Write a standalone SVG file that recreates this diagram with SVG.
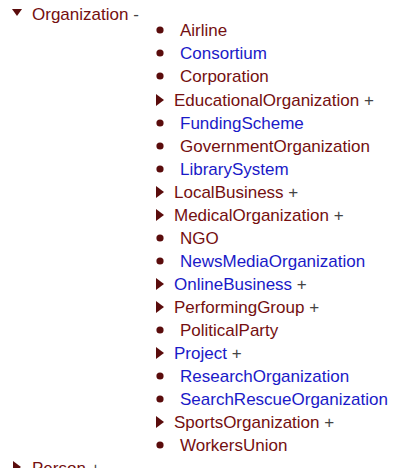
<svg xmlns="http://www.w3.org/2000/svg" width="400" height="468" viewBox="0 0 400 468">
<style>
text{font-family:"Liberation Sans",Arial,sans-serif;font-size:17px}
.r{fill:#740f10}
.b{fill:#1a1ac8}
.p{fill:#444}
.m{fill:#5a0c0c}
</style>
<defs>
<circle id="dot" r="3.6" class="m"/>
<path id="tri" d="M0,-6 L8,0 L0,6 Z" class="m"/>
</defs>
<rect width="400" height="468" fill="#fff"/>
<g id="Organization"><path d="M12,9 L22,9 L17,16 Z" class="m"/><text x="32" y="20" class="r">Organization <tspan class="p">-</tspan></text></g>
<g id="Airline"><use href="#dot" x="160" y="30"/><text x="180" y="36" class="r">Airline</text></g>
<g id="Consortium"><use href="#dot" x="160" y="53"/><text x="180" y="59" class="b">Consortium</text></g>
<g id="Corporation"><use href="#dot" x="160" y="76"/><text x="180" y="82" class="r">Corporation</text></g>
<g id="EducationalOrganization"><use href="#tri" x="156" y="100"/><text x="174" y="106" class="r">EducationalOrganization <tspan class="p">+</tspan></text></g>
<g id="FundingScheme"><use href="#dot" x="160" y="123"/><text x="180" y="129" class="b">FundingScheme</text></g>
<g id="GovernmentOrganization"><use href="#dot" x="160" y="146"/><text x="180" y="152" class="r">GovernmentOrganization</text></g>
<g id="LibrarySystem"><use href="#dot" x="160" y="169"/><text x="180" y="175" class="b">LibrarySystem</text></g>
<g id="LocalBusiness"><use href="#tri" x="156" y="192"/><text x="174" y="198" class="r">LocalBusiness <tspan class="p">+</tspan></text></g>
<g id="MedicalOrganization"><use href="#tri" x="156" y="215"/><text x="174" y="221" class="r">MedicalOrganization <tspan class="p">+</tspan></text></g>
<g id="NGO"><use href="#dot" x="160" y="238"/><text x="180" y="244" class="r">NGO</text></g>
<g id="NewsMediaOrganization"><use href="#dot" x="160" y="261"/><text x="180" y="267" class="b">NewsMediaOrganization</text></g>
<g id="OnlineBusiness"><use href="#tri" x="156" y="284"/><text x="174" y="290" class="b">OnlineBusiness <tspan class="p">+</tspan></text></g>
<g id="PerformingGroup"><use href="#tri" x="156" y="307"/><text x="174" y="313" class="r">PerformingGroup <tspan class="p">+</tspan></text></g>
<g id="PoliticalParty"><use href="#dot" x="160" y="330"/><text x="180" y="336" class="r">PoliticalParty</text></g>
<g id="Project"><use href="#tri" x="156" y="353"/><text x="174" y="359" class="b">Project <tspan class="p">+</tspan></text></g>
<g id="ResearchOrganization"><use href="#dot" x="160" y="376"/><text x="180" y="382" class="b">ResearchOrganization</text></g>
<g id="SearchRescueOrganization"><use href="#dot" x="160" y="399"/><text x="180" y="405" class="b">SearchRescueOrganization</text></g>
<g id="SportsOrganization"><use href="#tri" x="156" y="422"/><text x="174" y="428" class="r">SportsOrganization <tspan class="p">+</tspan></text></g>
<g id="WorkersUnion"><use href="#dot" x="160" y="445"/><text x="180" y="451" class="r">WorkersUnion</text></g>
<g id="Person"><use href="#tri" x="13" y="467"/><text x="32" y="474" class="r">Person <tspan class="p">+</tspan></text></g>
<g id="connectors"></g>
</svg>
